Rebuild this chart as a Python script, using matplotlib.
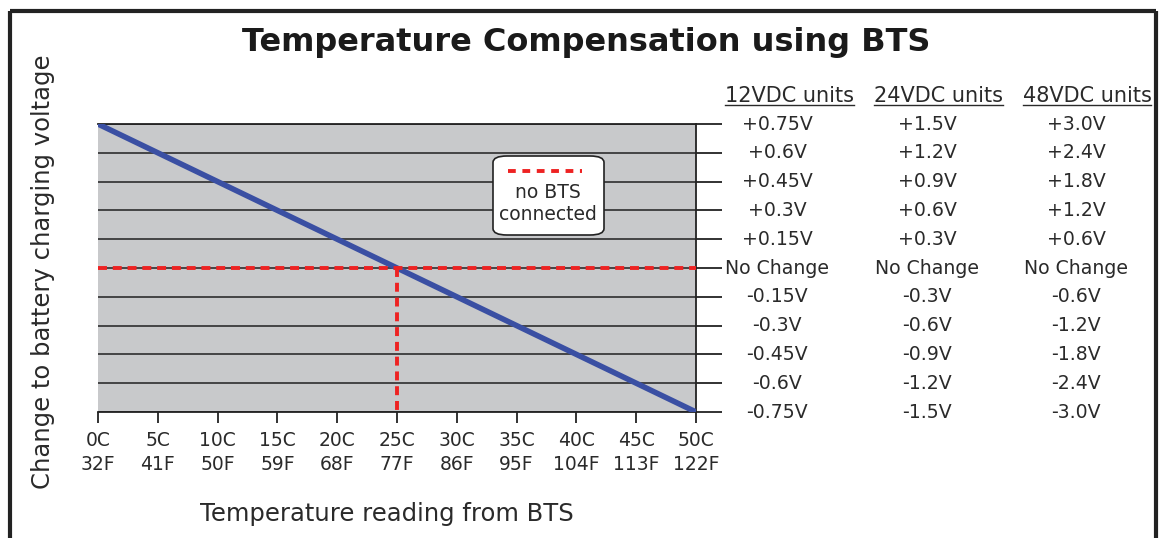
import matplotlib
matplotlib.use("Agg")
import matplotlib.pyplot as plt
from matplotlib.patches import FancyBboxPatch
from matplotlib.lines import Line2D
from matplotlib.transforms import blended_transform_factory

# Temperature axis (BTS reading)
temps_c = [0, 5, 10, 15, 20, 25, 30, 35, 40, 45, 50]
temps_f = [32, 41, 50, 59, 68, 77, 86, 95, 104, 113, 122]

# Charging-voltage compensation for 12V units at each temperature
comp_12v = [0.75, 0.6, 0.45, 0.3, 0.15, 0.0, -0.15, -0.3, -0.45, -0.6, -0.75]

# Voltage levels (12V scale) and the table printed beside them
levels_12v = [0.75, 0.6, 0.45, 0.3, 0.15, 0.0, -0.15, -0.3, -0.45, -0.6, -0.75]
col_headers = ["12VDC units", "24VDC units", "48VDC units"]
labels_12v = ["+0.75V", "+0.6V", "+0.45V", "+0.3V", "+0.15V", "No Change",
              "-0.15V", "-0.3V", "-0.45V", "-0.6V", "-0.75V"]
labels_24v = ["+1.5V", "+1.2V", "+0.9V", "+0.6V", "+0.3V", "No Change",
              "-0.3V", "-0.6V", "-0.9V", "-1.2V", "-1.5V"]
labels_48v = ["+3.0V", "+2.4V", "+1.8V", "+1.2V", "+0.6V", "No Change",
              "-0.6V", "-1.2V", "-1.8V", "-2.4V", "-3.0V"]

nominal_temp = 25

W, H = 1162, 538
fig = plt.figure(figsize=(W / 100, H / 100), dpi=100)
fig.patch.set_facecolor("white")
plt.rcParams["font.family"] = ["DejaVu Sans"]

TXT = "#2a2a2a"

def fx(px):
    return px / W

def fy(py):
    return 1 - py / H

# Frame around the figure (left, top, right)
frame_kw = dict(color="#222222", lw=3, transform=fig.transFigure, solid_capstyle="butt")
fig.add_artist(Line2D([fx(10), fx(10)], [0, fy(11)], **frame_kw))
fig.add_artist(Line2D([fx(10), fx(1156)], [fy(11), fy(11)], **frame_kw))
fig.add_artist(Line2D([fx(1156), fx(1156)], [fy(11), 0], **frame_kw))

ax = fig.add_axes([fx(98), fy(412), fx(696) - fx(98), fy(124) - fy(412)])
ax.set_facecolor("#c8c9cb")
ax.set_xlim(temps_c[0], temps_c[-1])
ax.set_ylim(levels_12v[-1], levels_12v[0])

# Horizontal grid lines at each voltage step
for lv in levels_12v:
    ax.axhline(lv, color="#3a3a3a", lw=1.3, zorder=1)

ax.spines["left"].set_visible(False)
for side in ["right", "top", "bottom"]:
    ax.spines[side].set_color("#222222")
    ax.spines[side].set_linewidth(1.3)

# X ticks with two-line Celsius/Fahrenheit labels
ax.set_xticks(temps_c)
ax.set_xticklabels([f"{c}C\n{f}F" for c, f in zip(temps_c, temps_f)],
                   fontsize=13.5, color=TXT, linespacing=1.3)
ax.tick_params(axis="x", direction="out", length=8, width=1.3, color="#222222", pad=6)

# Right-hand ticks reaching out to the table
ax.set_yticks(levels_12v)
ax.yaxis.tick_right()
ax.set_yticklabels([])
ax.tick_params(axis="y", direction="out", length=19, width=1.3, color="#222222",
               left=False, right=True)

# Compensation line
ax.plot(temps_c, comp_12v, color="#3a4fa3", lw=4.0, solid_capstyle="round", zorder=4)

# No-BTS reference: dashed red at zero change and at nominal temperature
ax.plot([temps_c[0], temps_c[-1]], [0, 0], color="#ee2222", lw=2.8,
        dashes=(2.3, 1.5), zorder=5)
ax.plot([nominal_temp, nominal_temp], [0, levels_12v[-1]], color="#ee2222", lw=2.8,
        dashes=(2.3, 1.5), zorder=5, clip_on=False)

# Key box
box = FancyBboxPatch((fx(493), fy(235)), fx(604) - fx(493), fy(156) - fy(235),
                     boxstyle="round,pad=0,rounding_size=0.012",
                     transform=fig.transFigure, facecolor="white",
                     edgecolor="#222222", lw=1.2, zorder=6)
fig.add_artist(box)
fig.add_artist(Line2D([fx(508), fx(582)], [fy(171), fy(171)], color="#ee2222", lw=2.8,
                      dashes=(2.0, 1.7), transform=fig.transFigure, zorder=7))
fig.text(fx(548), fy(193), "no BTS", ha="center", va="center", fontsize=13.5,
         color=TXT, zorder=7)
fig.text(fx(548), fy(214), "connected", ha="center", va="center", fontsize=13.5,
         color=TXT, zorder=7)

# Voltage table beside the plot
tr = blended_transform_factory(fig.transFigure, ax.transData)
col_x = [fx(777), fx(927), fx(1076)]
for cx, labels in zip(col_x, [labels_12v, labels_24v, labels_48v]):
    for lv, txt in zip(levels_12v, labels):
        ax.text(cx, lv, txt, transform=tr, ha="center", va="center",
                fontsize=13.6, color=TXT, clip_on=False)

header_x = [fx(789), fx(938), fx(1087)]
header_texts = []
for hx, h in zip(header_x, col_headers):
    t = fig.text(hx, fy(96), h, ha="center", va="center", fontsize=15, color=TXT)
    header_texts.append(t)

# Title and axis labels
fig.text(fx(586), fy(42), "Temperature Compensation using BTS", ha="center", va="center",
         fontsize=23, fontweight="bold", color="#1a1a1a")
fig.text(fx(43), fy(272), "Change to battery charging voltage", ha="center", va="center",
         rotation=90, fontsize=17.5, color=TXT)
fig.text(fx(387), fy(514), "Temperature reading from BTS", ha="center", va="center",
         fontsize=17.5, color=TXT)

# Underline the column headers
fig.canvas.draw()
renderer = fig.canvas.get_renderer()
for t in header_texts:
    bb = t.get_window_extent(renderer)
    y = bb.y0 + 1
    fig.add_artist(Line2D([bb.x0 / W, bb.x1 / W], [y / H, y / H], color=TXT,
                          lw=1.0, transform=fig.transFigure))

fig.savefig("out.png", dpi=100, facecolor="white")
